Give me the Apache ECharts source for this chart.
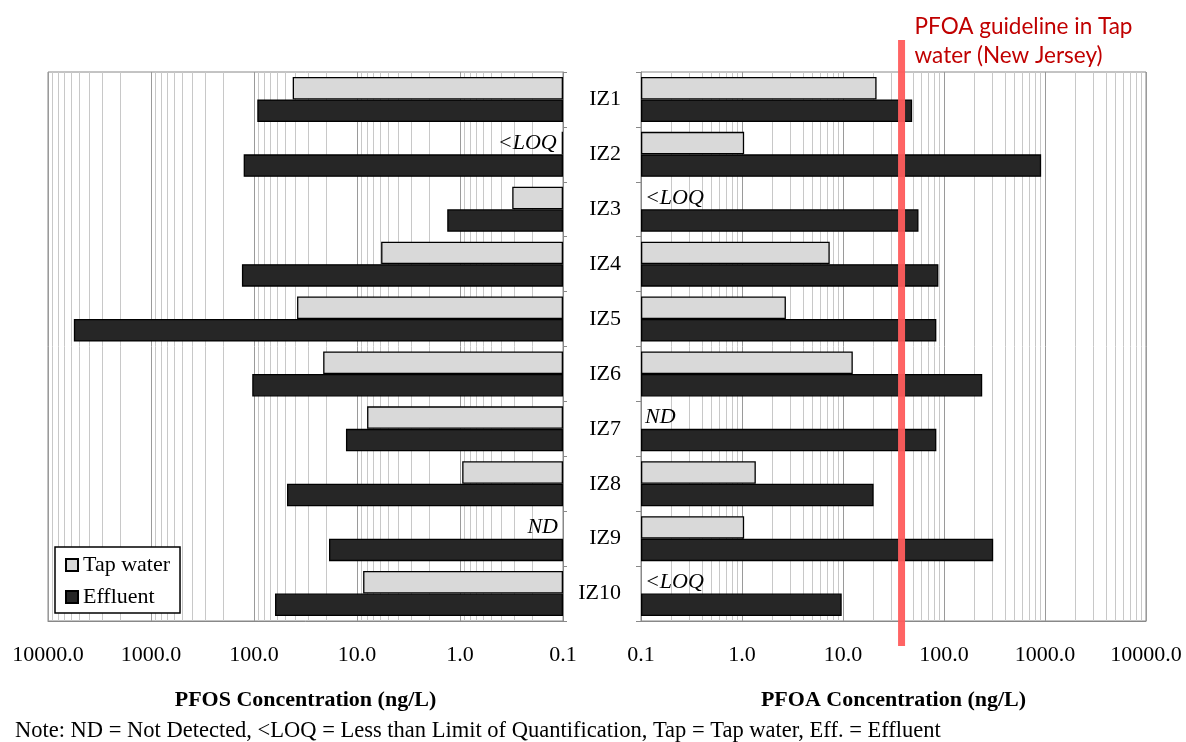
<!DOCTYPE html>
<html>
<head>
<meta charset="utf-8">
<script src="https://cdn.jsdelivr.net/npm/echarts@6/dist/echarts.min.js"></script>
<style>
html,body{margin:0;padding:0;background:#fff;}
#chart{width:1186px;height:742px;}
</style>
</head>
<body>
<div id="chart"></div>
<script>
// ---- data ----
const categories = ['IZ1','IZ2','IZ3','IZ4','IZ5','IZ6','IZ7','IZ8','IZ9','IZ10'];
// PFOS (ng/L)
const pfosTap      = [42.1, 0.103, 0.311, 5.83, 38.2, 21.3, 7.98, 0.952, 0.1, 8.72];
const pfosTapNote  = ['', '<LOQ', '', '', '', '', '', '', 'ND', ''];
const pfosEffluent = [92.9, 126, 1.33, 131, 5612, 104, 12.8, 47.8, 18.7, 62.5];
// PFOA (ng/L)
const pfoaTap      = [21.5, 1.05, 0.1, 7.39, 2.72, 12.5, 0.1, 1.37, 1.05, 0.1];
const pfoaTapNote  = ['', '', '<LOQ', '', '', '', 'ND', '', '', '<LOQ'];
const pfoaEffluent = [48.4, 916, 55.9, 88, 84, 239, 84, 20.1, 307, 9.71];
const pfoaGuideline = 38;
const axisTicks = [0.1, 1, 10, 100, 1000, 10000];
const minorMultipliers = [2, 3, 4, 5, 6, 7, 8, 9];

const SERIF = '"Liberation Serif", "Times New Roman", serif';
const minorValues = [];
axisTicks.slice(0, -1).forEach(d => minorMultipliers.forEach(m => minorValues.push(d * m)));

function tapData(values, notes, side) {
  return values.map((v, i) => {
    const note = notes[i];
    if (!note) return v;
    const tiny = v > 0.1;
    return {
      value: v,
      itemStyle: tiny ? {} : { borderWidth: 0 },
      label: {
        show: true, formatter: note,
        position: side === 'left' ? 'left' : 'right',
        distance: side === 'left' ? 5 : 4,
        fontFamily: SERIF, fontStyle: 'italic', fontSize: 22, color: '#000'
      }
    };
  });
}

function minorLines() {
  return {
    silent: true, symbol: 'none', z: 1, animation: false,
    label: { show: false },
    lineStyle: { color: '#c8c8c8', width: 1, type: 'solid' },
    emphasis: { disabled: true },
    data: minorValues.map(v => ({ xAxis: v }))
  };
}

const xCommon = (gridIndex, inverse, title) => ({
  type: 'log', logBase: 10, gridIndex, inverse,
  min: 0.1, max: 10000, startValue: 0.1,
  axisLine: { show: true, lineStyle: { color: '#888', width: 1 } },
  axisTick: { show: false },
  splitLine: { show: true, lineStyle: { color: '#9a9a9a', width: 1 } },
  axisLabel: {
    color: '#000', fontFamily: SERIF, fontSize: 22, margin: 23,
    formatter: v => Number(v).toFixed(1)
  },
  name: title, nameLocation: 'middle', nameGap: 68,
  nameTextStyle: { color: '#000', fontFamily: SERIF, fontSize: 22, fontWeight: 'bold' }
});

const barCommon = { type: 'bar', barGap: '0%', barCategoryGap: '18%', animation: false };
const tapStyle = { color: '#d9d9d9', borderColor: '#000', borderWidth: 1.3 };
const effStyle = { color: '#262626', borderColor: '#000', borderWidth: 1.3 };

const option = {
  backgroundColor: '#fff',
  animation: false,
  grid: [
    { left: 48, top: 72, width: 515, height: 549, show: true, borderColor: '#888', borderWidth: 1, backgroundColor: 'transparent' },
    { left: 641, top: 72, width: 505, height: 549, show: true, borderColor: '#888', borderWidth: 1, backgroundColor: 'transparent' }
  ],
  xAxis: [
    xCommon(0, true, 'PFOS Concentration (ng/L)'),
    xCommon(1, false, 'PFOA Concentration (ng/L)')
  ],
  yAxis: [
    { type: 'category', gridIndex: 0, data: categories, inverse: true, position: 'right',
      axisLine: { show: true, lineStyle: { color: '#888' } },
      axisTick: { show: true, length: 4, lineStyle: { color: '#888' } },
      axisLabel: { show: false }, splitLine: { show: false } },
    { type: 'category', gridIndex: 1, data: categories, inverse: true, position: 'left',
      axisLine: { show: true, lineStyle: { color: '#888' } },
      axisTick: { show: true, length: 5, lineStyle: { color: '#888' } },
      axisLabel: { show: true, color: '#000', fontFamily: SERIF, fontSize: 22, margin: 20 },
      splitLine: { show: false } }
  ],
  legend: {
    data: ['Tap water', 'Effluent'],
    orient: 'vertical', left: 55, top: 547,
    padding: [7, 10, 5, 10], itemGap: 10,
    itemWidth: 12, itemHeight: 12, icon: 'rect',
    backgroundColor: '#fff', borderColor: '#000', borderWidth: 1.5,
    textStyle: { color: '#000', fontFamily: SERIF, fontSize: 22 },
    selectedMode: false
  },
  series: [
    Object.assign({}, barCommon, { name: 'Tap water', xAxisIndex: 0, yAxisIndex: 0, itemStyle: tapStyle,
      data: tapData(pfosTap, pfosTapNote, 'left'), markLine: minorLines() }),
    Object.assign({}, barCommon, { name: 'Effluent', xAxisIndex: 0, yAxisIndex: 0, itemStyle: effStyle,
      data: pfosEffluent }),
    Object.assign({}, barCommon, { name: 'Tap water', xAxisIndex: 1, yAxisIndex: 1, itemStyle: tapStyle,
      data: tapData(pfoaTap, pfoaTapNote, 'right'), markLine: minorLines() }),
    Object.assign({}, barCommon, { name: 'Effluent', xAxisIndex: 1, yAxisIndex: 1, itemStyle: effStyle,
      data: pfoaEffluent })
  ]
};

const chart = echarts.init(document.getElementById('chart'), null, { renderer: 'canvas' });
chart.setOption(option);

const gx = chart.convertToPixel({ xAxisIndex: 1 }, pfoaGuideline);
chart.setOption({
  graphic: [
    { type: 'rect', z: 50, silent: true,
      shape: { x: gx - 3.5, y: 40, width: 7, height: 606 },
      style: { fill: '#ff5c5c', opacity: 0.95 } },
    { type: 'text', z: 50, silent: true, left: gx + 13, top: 12,
      style: { text: 'PFOA guideline in Tap\nwater (New Jersey)', fill: '#c00000',
        font: '22.5px Lato, "Open Sans", sans-serif', lineHeight: 29 } },
    { type: 'text', z: 50, silent: true, left: 15, top: 720,
      style: { text: 'Note: ND = Not Detected, <LOQ = Less than Limit of Quantification, Tap = Tap water, Eff. = Effluent',
        fill: '#000', font: '22.5px "Liberation Serif", serif' } }
  ]
});
</script>
</body>
</html>
